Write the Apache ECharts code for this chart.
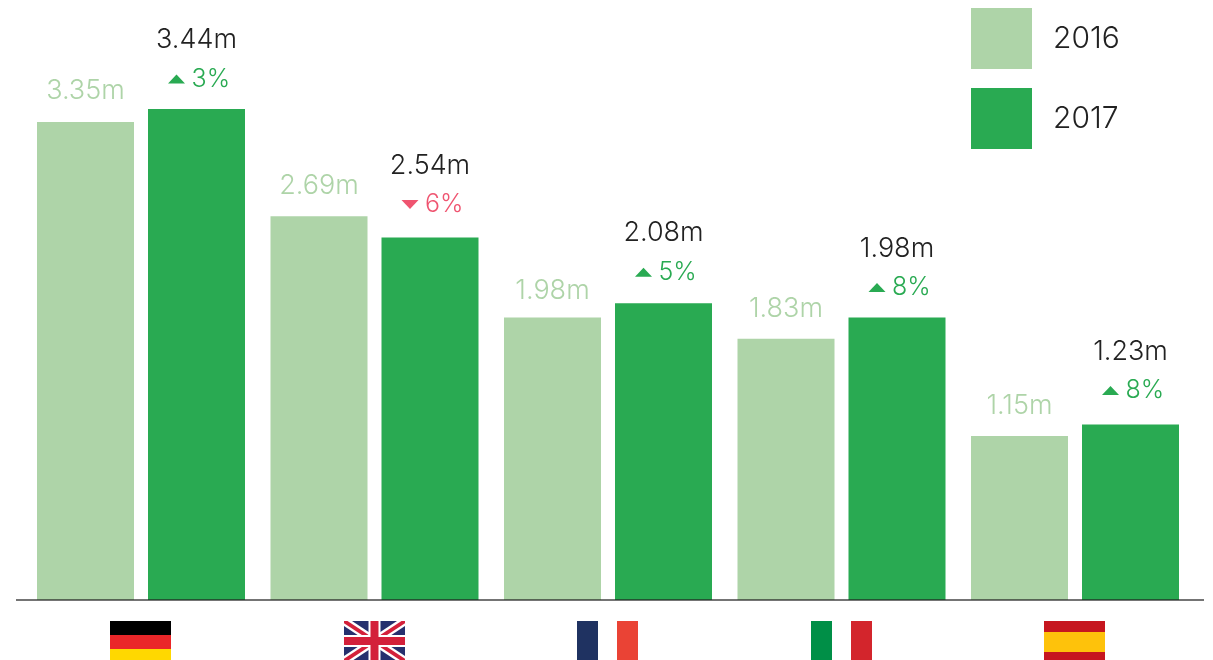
<!DOCTYPE html>
<html>
<head>
<meta charset="utf-8">
<style>html,body{margin:0;padding:0;background:#fff}#chart{width:1213px;height:660px}</style>
<script src="https://cdn.jsdelivr.net/npm/echarts@6/dist/echarts.min.js"></script>
</head>
<body>
<div id="chart"></div>
<script>
// Top five countries, in millions, 2016 against 2017
const countries = ['Germany', 'United Kingdom', 'France', 'Italy', 'Spain'];
const values2016 = [3.35, 2.69, 1.98, 1.83, 1.15];
const values2017 = [3.44, 2.54, 2.08, 1.98, 1.23];
const changePercent = [3, -6, 5, 8, 8];

const FONT = 'Inter';
const LIGHT_GREEN = '#aed4a8';
const GREEN = '#29aa52';
const ROSE = '#ef5470';
const INK = '#222222';
const BAR_WIDTH = 97;
const BAR_GAP = 14;
const SECOND_BAR_OFFSET = (BAR_WIDTH + BAR_GAP) / 2;
const FLAG_W = 61;
const FLAG_H = 40;
const FLAG_TOP_BELOW_AXIS = 21;

// Hand-set vertical spacing of the labels above each pair of bars, in pixels
const labelLift2016 = [3, 2, -2, 1, 2];
const labelLift2017 = [-1.5, 1.5, -0.5, -1.5, 2.5];

const rect = (x, y, w, h, fill) => ({ type: 'rect', shape: { x, y, width: w, height: h }, style: { fill } });
const poly = (points, fill) => ({ type: 'polygon', shape: { points }, style: { fill } });

// Each flag is built in a box whose top-left corner is (x, y)
function vertical(x, y, a, b) {
  return [rect(x, y, 21, FLAG_H, a), rect(x + 40, y, 21, FLAG_H, b)];
}
function unionJack(x, y) {
  const W = FLAG_W, H = FLAG_H, navy = '#26306e', red = '#d3203a', white = '#ffffff';
  const diagonal = (tx, ty, fill) => [
    poly([[x, y], [x + tx, y], [x + W, y + H - ty], [x + W, y + H], [x + W - tx, y + H], [x, y + ty]], fill),
    poly([[x + W, y], [x + W - tx, y], [x, y + H - ty], [x, y + H], [x + tx, y + H], [x + W, y + ty]], fill)
  ];
  return [
    rect(x, y, W, H, navy),
    ...diagonal(8, 5, white),
    ...diagonal(3.5, 2.2, red),
    rect(x + W / 2 - 6, y, 12, H, white),
    rect(x, y + H / 2 - 6, W, 12, white),
    rect(x + W / 2 - 4, y, 8, H, red),
    rect(x, y + H / 2 - 4, W, 8, red)
  ];
}
const flagPainters = [
  (x, y) => [rect(x, y, FLAG_W, 14, '#000000'), rect(x, y + 14, FLAG_W, 14, '#ea2629'), rect(x, y + 28, FLAG_W, 12, '#ffd800')],
  unionJack,
  (x, y) => vertical(x, y, '#1f3261', '#ea4335'),
  (x, y) => vertical(x, y, '#008f47', '#d3252c'),
  (x, y) => [rect(x, y, FLAG_W, FLAG_H, '#c6161f'), rect(x, y + 11, FLAG_W, 20, '#fec20b')]
];

const chart = echarts.init(document.getElementById('chart'), null, { renderer: 'canvas' });

chart.setOption({
  animation: false,
  backgroundColor: '#ffffff',
  grid: { left: 24.25, width: 1167.5, top: 29.2, height: 570.8, containLabel: false },
  legend: {
    data: ['2016', '2017'],
    orient: 'vertical',
    left: 971,
    top: 8,
    padding: 0,
    itemWidth: 61,
    itemHeight: 61,
    itemGap: 19,
    icon: 'rect',
    selectedMode: false,
    textStyle: { fontFamily: FONT, fontWeight: 300, fontSize: 30, color: INK, padding: [0, 0, 0, 16] }
  },
  xAxis: {
    type: 'category',
    data: countries,
    axisLine: { show: false },
    axisTick: { show: false },
    axisLabel: { show: false }
  },
  yAxis: { type: 'value', min: 0, max: 4, show: false },
  series: [
    {
      name: '2016',
      type: 'bar',
      data: values2016.map((value, i) => ({ value, label: { offset: [0, -labelLift2016[i]] } })),
      barWidth: BAR_WIDTH,
      barGap: (BAR_GAP / BAR_WIDTH * 100) + '%',
      itemStyle: { color: LIGHT_GREEN },
      label: {
        show: true,
        position: 'top',
        distance: 15,
        formatter: p => p.value.toFixed(2) + 'm',
        fontFamily: FONT,
        fontWeight: 300,
        fontSize: 27,
        color: LIGHT_GREEN
      }
    },
    {
      name: '2017',
      type: 'bar',
      data: values2017.map((value, i) => ({ value, label: { offset: [0, -labelLift2017[i]] } })),
      barWidth: BAR_WIDTH,
      itemStyle: { color: GREEN },
      label: {
        show: true,
        position: 'top',
        distance: 57,
        formatter: p => p.value.toFixed(2) + 'm',
        fontFamily: FONT,
        fontWeight: 300,
        fontSize: 27,
        color: INK
      }
    },
    {
      // Percentage change with its arrow, sitting between the 2017 bar and its value
      name: 'change',
      type: 'custom',
      data: values2017.map((v, i) => [i, v, changePercent[i]]),
      encode: { x: 0, y: 1 },
      clip: false,
      silent: true,
      z: 5,
      renderItem(params, api) {
        const pt = api.coord([api.value(0), api.value(1)]);
        const change = api.value(2);
        const up = change >= 0;
        const color = up ? GREEN : ROSE;
        const cx = pt[0] + SECOND_BAR_OFFSET;
        const cy = pt[1] - 31.5 - labelLift2017[params.dataIndex];
        const tx = cx - 20;
        const tri = up
          ? [[tx - 8.5, cy + 4.5], [tx, cy - 4.5], [tx + 8.5, cy + 4.5]]
          : [[tx - 8.5, cy - 4.5], [tx, cy + 4.5], [tx + 8.5, cy - 4.5]];
        return {
          type: 'group',
          children: [
            poly(tri, color),
            {
              type: 'text',
              style: {
                x: tx + 15,
                y: cy,
                text: Math.abs(change) + '%',
                fontFamily: FONT,
                fontWeight: 300,
                fontSize: 25,
                fill: color,
                verticalAlign: 'middle',
                align: 'left'
              }
            }
          ]
        };
      }
    },
    {
      // Country flags hang under the axis, one per category
      name: 'flags',
      type: 'custom',
      data: countries.map((c, i) => [i, 0]),
      encode: { x: 0, y: 1 },
      clip: false,
      silent: true,
      renderItem(params, api) {
        const pt = api.coord([api.value(0), 0]);
        return {
          type: 'group',
          children: flagPainters[params.dataIndex](Math.round(pt[0] - FLAG_W / 2 - 0.1), Math.round(pt[1]) + FLAG_TOP_BELOW_AXIS)
        };
      }
    }
  ],
  graphic: [{
    type: 'rect',
    shape: { x: 16, y: 599, width: 1188, height: 2 },
    style: { fill: 'rgba(30,30,30,0.62)' },
    z: 20,
    silent: true
  }]
});
</script>
</body>
</html>
